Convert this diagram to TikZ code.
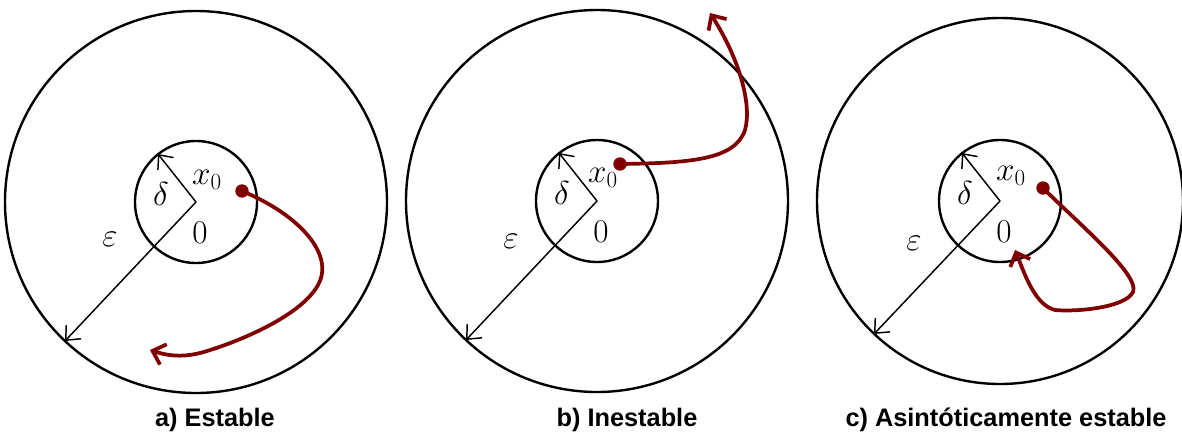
\documentclass[tikz,border=0pt]{standalone}
\usepackage{fontspec}
\newfontfamily\lblfont{Liberation Sans}
\usetikzlibrary{arrows.meta,calc}
\definecolor{traj}{RGB}{128,0,0}
\begin{document}
\begin{tikzpicture}[x=0.75pt,y=-0.75pt,
  bigc/.style={draw,line width=1.8pt},
  radarrow/.style={line width=1.1pt,-{Straight Barb[length=8.5pt,width=15pt]}},
  trajline/.style={draw=traj,line width=2.8pt,-{Straight Barb[length=8.5pt,width=16pt]}},
  dotst/.style={circle,fill=traj,inner sep=0pt,minimum size=10pt},
  mathlbl/.style={font=\fontsize{24}{28}\selectfont,inner sep=0pt},
  caption/.style={font=\lblfont\bfseries\fontsize{19}{22}\selectfont,anchor=base,inner sep=0pt}]
\useasboundingbox (0,0) rectangle (1182,433);

% ---------- panel a ----------
\coordinate (oa) at (196,202);
\draw[bigc] (oa) circle (191);
\draw[bigc] (oa) circle (61);
\coordinate (da) at ($(oa)+(-38,-48)$);
\coordinate (ea) at ($(oa)+(-131,139)$);
\draw[radarrow] (oa) -- (da);
\draw[radarrow] (oa) -- (ea);
\node[mathlbl] (lda) at ($(oa)+(-35,-8)$) {$\delta$};
\node[mathlbl] (lxa) at ($(oa)+(11,-22)$) {$x_0$};
\node[mathlbl] (l0a) at ($(oa)+(4,31)$) {$0$};
\node[mathlbl] (lea) at ($(oa)+(-86,37)$) {$\varepsilon$};
\coordinate (sa) at (242,191);
\coordinate (ta) at (150,350);
\draw[trajline] (sa) .. controls (300,215) and (335,255) .. (318,285)
  .. controls (300,318) and (230,345) .. (200,353)
  .. controls (180,358) and (165,355) .. (ta);
\node[dotst] (pa) at (sa) {};
\node[caption] (capa) at (215,426) {a) Estable};

% ---------- panel b ----------
\coordinate (ob) at (597,201);
\draw[bigc] (ob) circle (191);
\draw[bigc] (ob) circle (61);
\coordinate (db) at ($(ob)+(-38,-48)$);
\coordinate (eb) at ($(ob)+(-131,139)$);
\draw[radarrow] (ob) -- (db);
\draw[radarrow] (ob) -- (eb);
\node[mathlbl] (ldb) at ($(ob)+(-35,-8)$) {$\delta$};
\node[mathlbl] (lxb) at ($(ob)+(6,-23)$) {$x_0$};
\node[mathlbl] (l0b) at ($(ob)+(4,31)$) {$0$};
\node[mathlbl] (leb) at ($(ob)+(-86,40)$) {$\varepsilon$};
\coordinate (sb) at (620,164);
\coordinate (tb) at (710,13);
\draw[trajline] (sb) .. controls (690,163) and (735,160) .. (745,130)
  .. controls (752,105) and (740,60) .. (tb);
\node[dotst] (pb) at (sb) {};
\node[caption] (capb) at (627,426) {b) Inestable};

% ---------- panel c ----------
\coordinate (oc) at (1000,201);
\draw[bigc] (oc) circle (183);
\draw[bigc] (oc) circle (61);
\coordinate (dc) at ($(oc)+(-38,-48)$);
\coordinate (ec) at ($(oc)+(-126,133)$);
\draw[radarrow] (oc) -- (dc);
\draw[radarrow] (oc) -- (ec);
\node[mathlbl] (ldc) at ($(oc)+(-35,-8)$) {$\delta$};
\node[mathlbl] (lxc) at ($(oc)+(11,-25)$) {$x_0$};
\node[mathlbl] (l0c) at ($(oc)+(4,31)$) {$0$};
\node[mathlbl] (lec) at ($(oc)+(-86,42)$) {$\varepsilon$};
\coordinate (sc) at (1043,188);
\coordinate (tc) at (1015,250);
\draw[trajline] (sc) .. controls (1080,225) and (1140,275) .. (1133,292)
  .. controls (1125,308) and (1075,312) .. (1055,310)
  .. controls (1035,305) and (1025,275) .. (tc);
\node[dotst] (pc) at (sc) {};
\node[caption] (capc) at (1006,426) {c) Asintóticamente estable};
\end{tikzpicture}
\end{document}
